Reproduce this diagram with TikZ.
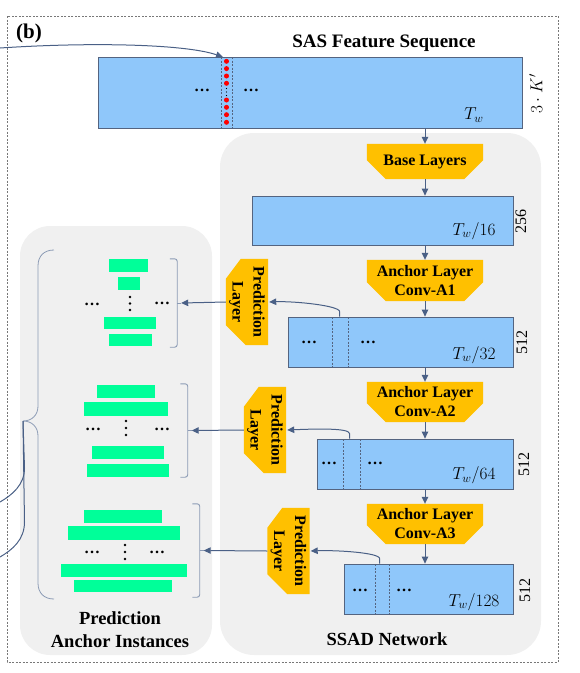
\documentclass[tikz,border=0pt]{standalone}
\usepackage{fontspec}
\setmainfont{Liberation Serif}
\usetikzlibrary{arrows.meta,calc}
\pgfdeclarelayer{panel}
\pgfdeclarelayer{fills}
\pgfsetlayers{panel,fills,main}
\definecolor{featblue}{RGB}{143,199,250}
\definecolor{featline}{RGB}{84,100,128}
\definecolor{orng}{RGB}{255,192,0}
\definecolor{instgreen}{RGB}{0,255,153}
\definecolor{panelgray}{RGB}{240,240,240}
\definecolor{arrcol}{RGB}{74,96,134}
\definecolor{bracecol}{RGB}{140,155,181}
\definecolor{outerdash}{RGB}{120,120,120}
\newcommand\chamS[1]{\fill[orng] (#1.north west) -- (#1.north east) -- ([yshift=19pt]#1.south east) -- ([xshift=-19pt]#1.south east) -- ([xshift=19pt]#1.south west) -- ([yshift=19pt]#1.south west) -- cycle;}
\newcommand\chamW[1]{\fill[orng] (#1.north east) -- (#1.south east) -- ([xshift=20pt]#1.south west) -- ([yshift=20pt]#1.south west) -- ([yshift=-20pt]#1.north west) -- ([xshift=15pt]#1.north west) -- cycle;}
\tikzset{
  feat/.style={draw=featline, fill=featblue, line width=0.8pt, inner sep=0pt},
  lay/.style={inner sep=0pt, minimum width=116pt, align=center, font=\fontsize{16}{19}\selectfont\bfseries},
  predbox/.style={inner sep=0pt, minimum width=42pt, minimum height=86pt},
  predtxt/.style={inner sep=0pt, rotate=-90, align=center, font=\fontsize{16}{21}\selectfont\bfseries},
  brk/.style={inner sep=0pt, minimum width=7pt},
  brkline/.style={draw=bracecol, line width=0.9pt, rounded corners=2.5pt},
  arr/.style={draw=arrcol, line width=1pt, -{Triangle[length=7pt,width=6.5pt]}},
  mlab/.style={inner sep=0pt, font=\fontsize{17}{20}\selectfont},
  nlab/.style={inner sep=0pt, font=\fontsize{16}{19}\selectfont},
  ell/.style={inner sep=0pt, font=\fontsize{16}{19}\selectfont\bfseries},
  ttl/.style={inner sep=0pt, align=center, font=\fontsize{19}{23}\selectfont\bfseries},
  sep/.style={draw=featline, line width=0.5pt, dash pattern=on 2pt off 1.5pt},
  vd/.style={fill=black},
}
\begin{document}
\begin{tikzpicture}[x=1pt, y=-1pt]
\useasboundingbox (0,0) rectangle (580,673);

% panels
\begin{pgfonlayer}{panel}
  \fill[panelgray, rounded corners=34pt] (220,133) rectangle (541,655);
  \fill[panelgray, rounded corners=30pt] (20,226) rectangle (212,655);
\end{pgfonlayer}

% outer dashed frame
\draw[outerdash, line width=0.6pt, dash pattern=on 2pt off 1.5pt] (7,16) rectangle (558,662);

% titles
\node[ttl, font=\fontsize{21}{24}\selectfont\bfseries] (lb) at (29,33) {(b)};
\node[ttl] (tsas) at (384,43) {SAS Feature Sequence};
\node[ttl, font=\fontsize{18.5}{23}\selectfont\bfseries] (tssad) at (387,639.5) {SSAD Network};
\node[ttl, font=\fontsize{18.5}{23}\selectfont\bfseries] (tpai) at (120,629.5) {Prediction\\Anchor Instances};

% feature maps
\node[feat, minimum width=424pt, minimum height=71pt] (sas) at (310,92.5) {};
\node[feat, minimum width=261pt, minimum height=49pt] (r16) at (382.5,220.5) {};
\node[feat, minimum width=225pt, minimum height=50pt] (r32) at (400.5,342) {};
\node[feat, minimum width=196pt, minimum height=50pt] (r64) at (415,464) {};
\node[feat, minimum width=169pt, minimum height=50pt] (r128) at (428.5,589) {};

% dashed separators
\draw[sep] (221,57) -- (221,128);
\draw[sep] (232,57) -- (232,128);
\draw[sep] (332,317) -- (332,367);
\draw[sep] (348,317) -- (348,367);
\draw[sep] (343,439) -- (343,489);
\draw[sep] (360,439) -- (360,489);
\draw[sep] (375,564) -- (375,614);
\draw[sep] (389,564) -- (389,614);

% red dots column
\foreach \yy in {61.3,68.6,76,83.3,100,107.3,114.7,122.3}
  \fill[red] (226.5,\yy) circle (2.5pt);
\foreach \yy in {88.5,92,95.5}
  \fill[black] (226.5,\yy) circle (0.7pt);

% ellipses in feature maps
\node[ell] (e1) at (202,90) {…};
\node[ell] (e2) at (251,90) {…};
\node[ell] (e3) at (309,342) {…};
\node[ell] (e4) at (368,342) {…};
\node[ell] (e5) at (329,463) {…};
\node[ell] (e6) at (375,463) {…};
\node[ell] (e7) at (360,590) {…};
\node[ell] (e8) at (404,590) {…};

% labels
\node[mlab] (tw0) at (474,115) {$T_w$};
\node[mlab] (tw16) at (474,231) {$T_w/16$};
\node[mlab] (tw32) at (474,355) {$T_w/32$};
\node[mlab] (tw64) at (474,475.5) {$T_w/64$};
\node[mlab] (tw128) at (474,602) {$T_w/128$};
\node[mlab, rotate=90] (ck) at (536,94) {$3\cdot K'$};
\node[nlab, rotate=90] (c16) at (521,221) {256};
\node[nlab, rotate=90] (c32) at (522,342) {512};
\node[nlab, rotate=90] (c64) at (524,464) {512};
\node[nlab, rotate=90] (c128) at (525,590) {512};

% layer blocks
\node[lay, minimum height=35pt] (base) at (425,161.5) {Base Layers};
\node[lay, minimum height=41pt] (a1) at (425,280.5) {Anchor Layer\\Conv-A1};
\node[lay, minimum height=40pt] (a2) at (425,402) {Anchor Layer\\Conv-A2};
\node[lay, minimum height=40pt] (a3) at (425,524) {Anchor Layer\\Conv-A3};

\node[predbox] (p1) at (247,302) {};
\node[predbox] (p2) at (265,430) {};
\node[predbox] (p3) at (288.5,551) {};
\node[predtxt] (p1t) at (p1) {Prediction\\Layer};
\node[predtxt] (p2t) at (p2) {Prediction\\Layer};
\node[predtxt] (p3t) at (p3) {Prediction\\Layer};

\begin{pgfonlayer}{fills}
  \chamS{base}\chamS{a1}\chamS{a2}\chamS{a3}
  \chamW{p1}\chamW{p2}\chamW{p3}
\end{pgfonlayer}

% main column arrows
\draw[arr] (sas.south -| base.north) -- (base.north);
\draw[arr] (base.south) -- (base.south |- r16.north);
\draw[arr] (r16.south -| a1.north) -- (a1.north);
\draw[arr] (a1.south) -- (a1.south |- r32.north);
\draw[arr] (r32.south -| a2.north) -- (a2.north);
\draw[arr] (a2.south) -- (a2.south |- r64.north);
\draw[arr] (r64.south -| a3.north) -- (a3.north);
\draw[arr] (a3.south) -- (a3.south |- r128.north);

% branches to prediction layers
\draw[arr] ($(r32.north west)+(52,0)$) -- ++(0,-5) .. controls +(0,-6) and +(25,-1) .. ($(p1.east)+(1,0)$);
\draw[arr] ($(r64.north west)+(33,0)$) -- ++(0,-5) .. controls +(0,-6) and +(25,-1) .. ($(p2.east)+(1,0)$);
\draw[arr] ($(r128.north west)+(36,0)$) -- ++(0,-5) .. controls +(0,-6) and +(25,-1) .. ($(p3.east)+(1,0)$);

% instance groups (brackets)
\node[brk, minimum height=88pt] (g1) at (173.5,303) {};
\node[brk, minimum height=93pt] (g2) at (184,430.5) {};
\node[brk, minimum height=93pt] (g3) at (196,550.5) {};
\foreach \g in {g1,g2,g3}{
  \draw[brkline] (\g.north west) -- (\g.north east) -- (\g.south east) -- (\g.south west);
  \draw[draw=bracecol, line width=0.9pt] (\g.east) -- ++(4,0);
}
\draw[arr] (p1.west) -- ($(g1.east)+(4,0)$);
\draw[arr] (p2.west) -- ($(g2.east)+(4,0)$);
\draw[arr] (p3.west) -- ($(g3.east)+(4,0)$);

% green instance bars
\fill[instgreen] (109,259) rectangle (148,272);
\fill[instgreen] (118,277) rectangle (140,290);
\fill[instgreen] (104,317) rectangle (156,329);
\fill[instgreen] (109,334) rectangle (152,346);

\fill[instgreen] (97,385) rectangle (155,398);
\fill[instgreen] (84,402) rectangle (168,416);
\fill[instgreen] (92,446) rectangle (164,459);
\fill[instgreen] (87,464) rectangle (169,477);

\fill[instgreen] (84,510) rectangle (162,523);
\fill[instgreen] (68,526) rectangle (180,540);
\fill[instgreen] (61,564) rectangle (187,577);
\fill[instgreen] (74,580) rectangle (172,592);

% dots in groups
\node[ell] (f1) at (92,304) {…};
\node[ell] (f2) at (162,303) {…};
\node[ell] (f3) at (93,429) {…};
\node[ell] (f4) at (162,429) {…};
\node[ell] (f5) at (92,552) {…};
\node[ell] (f6) at (157,552) {…};
\foreach \yy in {297,303.5,310} \fill[vd] (130,\yy) circle (1.3pt);
\foreach \yy in {421,428,435} \fill[vd] (126,\yy) circle (1.3pt);
\foreach \yy in {545,552,559} \fill[vd] (125,\yy) circle (1.3pt);

% big brace
\draw[bracecol, line width=0.8pt] (54,250) .. controls (44,250) and (38,256) .. (38,266) -- (38,406) .. controls (38,415) and (32,421) .. (23,421) .. controls (32,421) and (38,427) .. (38,436) -- (38,583) .. controls (38,593) and (44,599) .. (54,599);

% incoming lines from the left
\coordinate (tip) at (23,421);
\coordinate (inA) at (0,502);
\coordinate (inB) at (0,557);
\draw[arrcol, line width=1pt] (tip) -- (24.5,468) .. controls (24.5,485) and (12,495) .. (inA);
\draw[arrcol, line width=1pt] (tip) -- (24.5,522) .. controls (24.5,540) and (12,550) .. (inB);

% incoming curve at top
\coordinate (src) at (0,48);
\coordinate (sasin) at (223,57);
\draw[arr] (src) .. controls (90,42) and (185,44) .. (sasin);
\end{tikzpicture}
\end{document}
